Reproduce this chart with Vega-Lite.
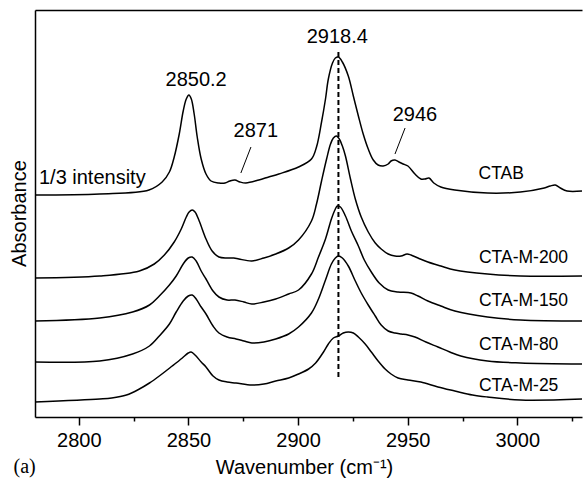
{
  "$schema": "https://vega.github.io/schema/vega-lite/v6.json",
  "width": 585,
  "height": 481,
  "autosize": {"type": "fit", "contains": "padding"},
  "padding": {"left": 9, "top": 10, "right": 0, "bottom": -7},
  "background": "white",
  "config": {
    "view": {"stroke": null},
    "font": "Liberation Sans",
    "axis": {"domainColor": "black", "domainWidth": 1.5, "tickColor": "black", "tickWidth": 1.5, "labelColor": "black", "titleColor": "black", "grid": false, "titleFontWeight": "normal", "labelFont": "Liberation Sans", "titleFont": "Liberation Sans"}
  },
  "datasets": {
    "spectra": [
      {"s": "CTAB", "wn": 2780, "a": 2.22}, {"s": "CTAB", "wn": 2809.5, "a": 2.23}, {"s": "CTAB", "wn": 2832, "a": 2.27},
      {"s": "CTAB", "wn": 2838, "a": 2.35}, {"s": "CTAB", "wn": 2841.3, "a": 2.45}, {"s": "CTAB", "wn": 2843.5, "a": 2.6},
      {"s": "CTAB", "wn": 2845.8, "a": 2.83}, {"s": "CTAB", "wn": 2847.6, "a": 3.06}, {"s": "CTAB", "wn": 2849.0, "a": 3.18},
      {"s": "CTAB", "wn": 2850.2, "a": 3.22}, {"s": "CTAB", "wn": 2851.3, "a": 3.18}, {"s": "CTAB", "wn": 2852.6, "a": 3.03},
      {"s": "CTAB", "wn": 2854.0, "a": 2.8}, {"s": "CTAB", "wn": 2855.8, "a": 2.58}, {"s": "CTAB", "wn": 2858.0, "a": 2.43},
      {"s": "CTAB", "wn": 2860.3, "a": 2.36}, {"s": "CTAB", "wn": 2863.9, "a": 2.34}, {"s": "CTAB", "wn": 2866.7, "a": 2.34},
      {"s": "CTAB", "wn": 2868.9, "a": 2.36}, {"s": "CTAB", "wn": 2871.2, "a": 2.37}, {"s": "CTAB", "wn": 2873.5, "a": 2.35},
      {"s": "CTAB", "wn": 2876.2, "a": 2.34}, {"s": "CTAB", "wn": 2882.1, "a": 2.37}, {"s": "CTAB", "wn": 2886.6, "a": 2.4},
      {"s": "CTAB", "wn": 2891.2, "a": 2.43}, {"s": "CTAB", "wn": 2900.2, "a": 2.5}, {"s": "CTAB", "wn": 2906.1, "a": 2.58},
      {"s": "CTAB", "wn": 2908.4, "a": 2.7}, {"s": "CTAB", "wn": 2910.7, "a": 2.95}, {"s": "CTAB", "wn": 2912.5, "a": 3.18},
      {"s": "CTAB", "wn": 2913.8, "a": 3.38}, {"s": "CTAB", "wn": 2915.7, "a": 3.54}, {"s": "CTAB", "wn": 2917.0, "a": 3.59},
      {"s": "CTAB", "wn": 2918.4, "a": 3.6}, {"s": "CTAB", "wn": 2920.2, "a": 3.55}, {"s": "CTAB", "wn": 2922.9, "a": 3.41},
      {"s": "CTAB", "wn": 2925.2, "a": 3.21}, {"s": "CTAB", "wn": 2927.5, "a": 3.01}, {"s": "CTAB", "wn": 2929.7, "a": 2.83},
      {"s": "CTAB", "wn": 2932.0, "a": 2.68}, {"s": "CTAB", "wn": 2934.3, "a": 2.57}, {"s": "CTAB", "wn": 2936.5, "a": 2.52},
      {"s": "CTAB", "wn": 2938.8, "a": 2.51}, {"s": "CTAB", "wn": 2941.1, "a": 2.53}, {"s": "CTAB", "wn": 2942.4, "a": 2.56},
      {"s": "CTAB", "wn": 2944.2, "a": 2.57}, {"s": "CTAB", "wn": 2946.0, "a": 2.55}, {"s": "CTAB", "wn": 2947.9, "a": 2.53},
      {"s": "CTAB", "wn": 2950.1, "a": 2.51}, {"s": "CTAB", "wn": 2953.3, "a": 2.43}, {"s": "CTAB", "wn": 2956.0, "a": 2.38},
      {"s": "CTAB", "wn": 2957.9, "a": 2.38}, {"s": "CTAB", "wn": 2959.7, "a": 2.39}, {"s": "CTAB", "wn": 2961.9, "a": 2.34},
      {"s": "CTAB", "wn": 2965.1, "a": 2.3}, {"s": "CTAB", "wn": 2971.5, "a": 2.27}, {"s": "CTAB", "wn": 2986.4, "a": 2.24},
      {"s": "CTAB", "wn": 3001.4, "a": 2.25}, {"s": "CTAB", "wn": 3012.3, "a": 2.29}, {"s": "CTAB", "wn": 3015.0, "a": 2.31},
      {"s": "CTAB", "wn": 3017.3, "a": 2.32}, {"s": "CTAB", "wn": 3019.6, "a": 2.29}, {"s": "CTAB", "wn": 3022.7, "a": 2.26},
      {"s": "CTAB", "wn": 3029.5, "a": 2.26},

      {"s": "CTA-M-200", "wn": 2780, "a": 1.39}, {"s": "CTA-M-200", "wn": 2809.5, "a": 1.41}, {"s": "CTA-M-200", "wn": 2827.6, "a": 1.46},
      {"s": "CTA-M-200", "wn": 2834.4, "a": 1.53}, {"s": "CTA-M-200", "wn": 2839.0, "a": 1.62}, {"s": "CTA-M-200", "wn": 2843.5, "a": 1.75},
      {"s": "CTA-M-200", "wn": 2846.7, "a": 1.88}, {"s": "CTA-M-200", "wn": 2849.0, "a": 2.0}, {"s": "CTA-M-200", "wn": 2850.3, "a": 2.05},
      {"s": "CTA-M-200", "wn": 2851.7, "a": 2.07}, {"s": "CTA-M-200", "wn": 2853.0, "a": 2.05}, {"s": "CTA-M-200", "wn": 2854.9, "a": 1.96},
      {"s": "CTA-M-200", "wn": 2858.0, "a": 1.78}, {"s": "CTA-M-200", "wn": 2860.8, "a": 1.66}, {"s": "CTA-M-200", "wn": 2863.9, "a": 1.6},
      {"s": "CTA-M-200", "wn": 2867.6, "a": 1.59}, {"s": "CTA-M-200", "wn": 2870.7, "a": 1.59}, {"s": "CTA-M-200", "wn": 2873.0, "a": 1.58},
      {"s": "CTA-M-200", "wn": 2878.9, "a": 1.56}, {"s": "CTA-M-200", "wn": 2884.4, "a": 1.59}, {"s": "CTA-M-200", "wn": 2889.8, "a": 1.63},
      {"s": "CTA-M-200", "wn": 2895.7, "a": 1.69}, {"s": "CTA-M-200", "wn": 2900.2, "a": 1.77}, {"s": "CTA-M-200", "wn": 2906.1, "a": 1.96},
      {"s": "CTA-M-200", "wn": 2908.4, "a": 2.13}, {"s": "CTA-M-200", "wn": 2910.7, "a": 2.36}, {"s": "CTA-M-200", "wn": 2913.0, "a": 2.58},
      {"s": "CTA-M-200", "wn": 2914.8, "a": 2.73}, {"s": "CTA-M-200", "wn": 2916.1, "a": 2.79}, {"s": "CTA-M-200", "wn": 2917.5, "a": 2.81},
      {"s": "CTA-M-200", "wn": 2918.8, "a": 2.78}, {"s": "CTA-M-200", "wn": 2920.2, "a": 2.71}, {"s": "CTA-M-200", "wn": 2921.6, "a": 2.61},
      {"s": "CTA-M-200", "wn": 2923.9, "a": 2.38}, {"s": "CTA-M-200", "wn": 2926.1, "a": 2.18}, {"s": "CTA-M-200", "wn": 2928.8, "a": 2.0},
      {"s": "CTA-M-200", "wn": 2932.0, "a": 1.85}, {"s": "CTA-M-200", "wn": 2935.2, "a": 1.74}, {"s": "CTA-M-200", "wn": 2937.9, "a": 1.68},
      {"s": "CTA-M-200", "wn": 2941.1, "a": 1.63}, {"s": "CTA-M-200", "wn": 2944.2, "a": 1.61}, {"s": "CTA-M-200", "wn": 2947.0, "a": 1.61},
      {"s": "CTA-M-200", "wn": 2949.7, "a": 1.63}, {"s": "CTA-M-200", "wn": 2951.5, "a": 1.62}, {"s": "CTA-M-200", "wn": 2954.7, "a": 1.59},
      {"s": "CTA-M-200", "wn": 2959.2, "a": 1.55}, {"s": "CTA-M-200", "wn": 2965.1, "a": 1.51}, {"s": "CTA-M-200", "wn": 2971.5, "a": 1.47},
      {"s": "CTA-M-200", "wn": 2986.4, "a": 1.43}, {"s": "CTA-M-200", "wn": 3001.4, "a": 1.41}, {"s": "CTA-M-200", "wn": 3029.5, "a": 1.41},

      {"s": "CTA-M-150", "wn": 2780, "a": 0.96}, {"s": "CTA-M-150", "wn": 2809.5, "a": 0.99}, {"s": "CTA-M-150", "wn": 2824.5, "a": 1.05},
      {"s": "CTA-M-150", "wn": 2832.2, "a": 1.12}, {"s": "CTA-M-150", "wn": 2836.7, "a": 1.21}, {"s": "CTA-M-150", "wn": 2841.3, "a": 1.32},
      {"s": "CTA-M-150", "wn": 2844.4, "a": 1.41}, {"s": "CTA-M-150", "wn": 2847.6, "a": 1.53}, {"s": "CTA-M-150", "wn": 2849.9, "a": 1.59},
      {"s": "CTA-M-150", "wn": 2851.7, "a": 1.6}, {"s": "CTA-M-150", "wn": 2853.5, "a": 1.56}, {"s": "CTA-M-150", "wn": 2855.8, "a": 1.46},
      {"s": "CTA-M-150", "wn": 2858.0, "a": 1.38}, {"s": "CTA-M-150", "wn": 2861.2, "a": 1.26}, {"s": "CTA-M-150", "wn": 2863.9, "a": 1.2},
      {"s": "CTA-M-150", "wn": 2867.6, "a": 1.17}, {"s": "CTA-M-150", "wn": 2871.2, "a": 1.17}, {"s": "CTA-M-150", "wn": 2875.3, "a": 1.15},
      {"s": "CTA-M-150", "wn": 2878.9, "a": 1.13}, {"s": "CTA-M-150", "wn": 2884.4, "a": 1.15}, {"s": "CTA-M-150", "wn": 2889.8, "a": 1.18},
      {"s": "CTA-M-150", "wn": 2895.7, "a": 1.23}, {"s": "CTA-M-150", "wn": 2900.2, "a": 1.27}, {"s": "CTA-M-150", "wn": 2906.1, "a": 1.43},
      {"s": "CTA-M-150", "wn": 2909.3, "a": 1.6}, {"s": "CTA-M-150", "wn": 2912.5, "a": 1.78}, {"s": "CTA-M-150", "wn": 2915.2, "a": 1.98},
      {"s": "CTA-M-150", "wn": 2917.0, "a": 2.08}, {"s": "CTA-M-150", "wn": 2917.9, "a": 2.11}, {"s": "CTA-M-150", "wn": 2919.3, "a": 2.1},
      {"s": "CTA-M-150", "wn": 2921.6, "a": 2.01}, {"s": "CTA-M-150", "wn": 2924.3, "a": 1.86}, {"s": "CTA-M-150", "wn": 2927.5, "a": 1.71},
      {"s": "CTA-M-150", "wn": 2930.2, "a": 1.57}, {"s": "CTA-M-150", "wn": 2933.4, "a": 1.45}, {"s": "CTA-M-150", "wn": 2937.0, "a": 1.34},
      {"s": "CTA-M-150", "wn": 2941.1, "a": 1.27}, {"s": "CTA-M-150", "wn": 2945.6, "a": 1.25}, {"s": "CTA-M-150", "wn": 2951.5, "a": 1.24},
      {"s": "CTA-M-150", "wn": 2954.7, "a": 1.21}, {"s": "CTA-M-150", "wn": 2959.2, "a": 1.16}, {"s": "CTA-M-150", "wn": 2965.1, "a": 1.11},
      {"s": "CTA-M-150", "wn": 2971.5, "a": 1.06}, {"s": "CTA-M-150", "wn": 2986.4, "a": 1.0}, {"s": "CTA-M-150", "wn": 3001.4, "a": 0.97},
      {"s": "CTA-M-150", "wn": 3029.5, "a": 0.96},

      {"s": "CTA-M-80", "wn": 2780, "a": 0.55}, {"s": "CTA-M-80", "wn": 2809.5, "a": 0.56}, {"s": "CTA-M-80", "wn": 2824.5, "a": 0.63},
      {"s": "CTA-M-80", "wn": 2832.2, "a": 0.71}, {"s": "CTA-M-80", "wn": 2836.7, "a": 0.81}, {"s": "CTA-M-80", "wn": 2841.3, "a": 0.93},
      {"s": "CTA-M-80", "wn": 2844.4, "a": 1.05}, {"s": "CTA-M-80", "wn": 2847.6, "a": 1.16}, {"s": "CTA-M-80", "wn": 2849.9, "a": 1.21},
      {"s": "CTA-M-80", "wn": 2851.7, "a": 1.22}, {"s": "CTA-M-80", "wn": 2853.5, "a": 1.18}, {"s": "CTA-M-80", "wn": 2855.8, "a": 1.1},
      {"s": "CTA-M-80", "wn": 2858.0, "a": 1.03}, {"s": "CTA-M-80", "wn": 2861.2, "a": 0.91}, {"s": "CTA-M-80", "wn": 2863.9, "a": 0.84},
      {"s": "CTA-M-80", "wn": 2867.6, "a": 0.8}, {"s": "CTA-M-80", "wn": 2871.7, "a": 0.78}, {"s": "CTA-M-80", "wn": 2875.3, "a": 0.76},
      {"s": "CTA-M-80", "wn": 2878.9, "a": 0.74}, {"s": "CTA-M-80", "wn": 2884.4, "a": 0.75}, {"s": "CTA-M-80", "wn": 2889.8, "a": 0.78},
      {"s": "CTA-M-80", "wn": 2895.7, "a": 0.83}, {"s": "CTA-M-80", "wn": 2900.2, "a": 0.9}, {"s": "CTA-M-80", "wn": 2906.1, "a": 1.04},
      {"s": "CTA-M-80", "wn": 2909.3, "a": 1.18}, {"s": "CTA-M-80", "wn": 2912.5, "a": 1.37}, {"s": "CTA-M-80", "wn": 2915.2, "a": 1.53},
      {"s": "CTA-M-80", "wn": 2917.0, "a": 1.59}, {"s": "CTA-M-80", "wn": 2918.4, "a": 1.61}, {"s": "CTA-M-80", "wn": 2920.2, "a": 1.59},
      {"s": "CTA-M-80", "wn": 2922.9, "a": 1.51}, {"s": "CTA-M-80", "wn": 2926.1, "a": 1.36}, {"s": "CTA-M-80", "wn": 2928.8, "a": 1.24},
      {"s": "CTA-M-80", "wn": 2932.0, "a": 1.12}, {"s": "CTA-M-80", "wn": 2935.2, "a": 1.01}, {"s": "CTA-M-80", "wn": 2937.9, "a": 0.92},
      {"s": "CTA-M-80", "wn": 2941.1, "a": 0.86}, {"s": "CTA-M-80", "wn": 2944.2, "a": 0.84}, {"s": "CTA-M-80", "wn": 2947.0, "a": 0.83},
      {"s": "CTA-M-80", "wn": 2950.1, "a": 0.82}, {"s": "CTA-M-80", "wn": 2953.3, "a": 0.8}, {"s": "CTA-M-80", "wn": 2958.3, "a": 0.75},
      {"s": "CTA-M-80", "wn": 2963.8, "a": 0.7}, {"s": "CTA-M-80", "wn": 2969.2, "a": 0.65}, {"s": "CTA-M-80", "wn": 2974.2, "a": 0.61},
      {"s": "CTA-M-80", "wn": 2986.4, "a": 0.56}, {"s": "CTA-M-80", "wn": 3001.4, "a": 0.54}, {"s": "CTA-M-80", "wn": 3029.5, "a": 0.53},

      {"s": "CTA-M-25", "wn": 2780, "a": 0.15}, {"s": "CTA-M-25", "wn": 2809.5, "a": 0.18}, {"s": "CTA-M-25", "wn": 2815.0, "a": 0.19},
      {"s": "CTA-M-25", "wn": 2821.7, "a": 0.22}, {"s": "CTA-M-25", "wn": 2827.6, "a": 0.28}, {"s": "CTA-M-25", "wn": 2832.2, "a": 0.34},
      {"s": "CTA-M-25", "wn": 2836.7, "a": 0.41}, {"s": "CTA-M-25", "wn": 2842.6, "a": 0.51}, {"s": "CTA-M-25", "wn": 2847.2, "a": 0.59},
      {"s": "CTA-M-25", "wn": 2849.9, "a": 0.64}, {"s": "CTA-M-25", "wn": 2851.2, "a": 0.65}, {"s": "CTA-M-25", "wn": 2853.0, "a": 0.62},
      {"s": "CTA-M-25", "wn": 2855.8, "a": 0.55}, {"s": "CTA-M-25", "wn": 2858.0, "a": 0.5}, {"s": "CTA-M-25", "wn": 2861.2, "a": 0.41},
      {"s": "CTA-M-25", "wn": 2863.9, "a": 0.37}, {"s": "CTA-M-25", "wn": 2867.6, "a": 0.35}, {"s": "CTA-M-25", "wn": 2871.7, "a": 0.34},
      {"s": "CTA-M-25", "wn": 2878.9, "a": 0.32}, {"s": "CTA-M-25", "wn": 2884.4, "a": 0.33}, {"s": "CTA-M-25", "wn": 2889.8, "a": 0.36},
      {"s": "CTA-M-25", "wn": 2895.7, "a": 0.39}, {"s": "CTA-M-25", "wn": 2900.2, "a": 0.43}, {"s": "CTA-M-25", "wn": 2904.8, "a": 0.48},
      {"s": "CTA-M-25", "wn": 2908.0, "a": 0.54}, {"s": "CTA-M-25", "wn": 2911.6, "a": 0.65}, {"s": "CTA-M-25", "wn": 2913.8, "a": 0.73},
      {"s": "CTA-M-25", "wn": 2916.1, "a": 0.79}, {"s": "CTA-M-25", "wn": 2918.4, "a": 0.81}, {"s": "CTA-M-25", "wn": 2920.6, "a": 0.84},
      {"s": "CTA-M-25", "wn": 2922.9, "a": 0.85}, {"s": "CTA-M-25", "wn": 2925.2, "a": 0.84}, {"s": "CTA-M-25", "wn": 2927.5, "a": 0.8},
      {"s": "CTA-M-25", "wn": 2930.6, "a": 0.73}, {"s": "CTA-M-25", "wn": 2933.4, "a": 0.65}, {"s": "CTA-M-25", "wn": 2936.5, "a": 0.56},
      {"s": "CTA-M-25", "wn": 2939.7, "a": 0.48}, {"s": "CTA-M-25", "wn": 2942.4, "a": 0.43}, {"s": "CTA-M-25", "wn": 2945.6, "a": 0.39},
      {"s": "CTA-M-25", "wn": 2950.1, "a": 0.37}, {"s": "CTA-M-25", "wn": 2956.0, "a": 0.35}, {"s": "CTA-M-25", "wn": 2963.8, "a": 0.3},
      {"s": "CTA-M-25", "wn": 2971.5, "a": 0.26}, {"s": "CTA-M-25", "wn": 2979.6, "a": 0.22}, {"s": "CTA-M-25", "wn": 2986.4, "a": 0.2},
      {"s": "CTA-M-25", "wn": 3001.4, "a": 0.17}, {"s": "CTA-M-25", "wn": 3029.5, "a": 0.18}
    ],
    "peakLabels": [
      {"t": "2850.2", "wn": 2853.5, "a": 3.31},
      {"t": "2871", "wn": 2880.7, "a": 2.8},
      {"t": "2918.4", "wn": 2917.9, "a": 3.74},
      {"t": "2946", "wn": 2953.3, "a": 2.96}
    ],
    "sampleLabels": [
      {"t": "CTAB", "wn": 2982.3, "a": 2.38},
      {"t": "CTA-M-200", "wn": 2982.5, "a": 1.54},
      {"t": "CTA-M-150", "wn": 2982.5, "a": 1.11},
      {"t": "CTA-M-80", "wn": 2982.5, "a": 0.67},
      {"t": "CTA-M-25", "wn": 2982.5, "a": 0.26}
    ],
    "pointers": [
      {"wn": 2878.5, "a": 2.7, "wn2": 2873.9, "a2": 2.44},
      {"wn": 2948.8, "a": 2.89, "wn2": 2944.2, "a2": 2.63}
    ],
    "marker": [{"wn": 2918.4, "a": 0.4, "a2": 3.65}]
  },
  "resolve": {"axis": {"x": "independent", "y": "independent"}},
  "layer": [
    {
      "data": {"name": "spectra"},
      "mark": {"type": "line", "color": "black", "strokeWidth": 1.5, "interpolate": "catmull-rom"},
      "encoding": {
        "x": {
          "field": "wn", "type": "quantitative",
          "scale": {"domain": [2780, 3029.5], "nice": false, "zero": false},
          "axis": {
            "orient": "bottom",
            "title": "Wavenumber (cm⁻¹)",
            "values": [2800, 2825, 2850, 2875, 2900, 2925, 2950, 2975, 3000, 3025],
            "format": "d",
            "labelExpr": "datum.value % 50 === 0 ? datum.label : ''",
            "tickSize": {"condition": {"test": "datum.value % 50 === 0", "value": 8}, "value": 4},
            "labelFontSize": 20,
            "labelPadding": 5,
            "labelFlush": false,
            "titleFontSize": 20,
            "titleX": 269,
            "titleY": 56,
            "titleBaseline": "alphabetic",
            "titleAnchor": null
          }
        },
        "y": {
          "field": "a", "type": "quantitative",
          "scale": {"domain": [0, 4.07], "nice": false, "zero": false},
          "axis": {
            "orient": "left",
            "title": "Absorbance",
            "ticks": false,
            "labels": false,
            "titleFontSize": 20,
            "titleX": -10,
            "titleY": 203,
            "titleAlign": "center",
            "titleBaseline": "alphabetic",
            "titleAngle": -90
          }
        },
        "detail": {"field": "s"}
      }
    },
    {
      "data": {"name": "marker"},
      "mark": {"type": "rule", "color": "black", "strokeWidth": 2, "strokeDash": [5, 3]},
      "encoding": {
        "x": {
          "field": "wn", "type": "quantitative",
          "axis": {"orient": "top", "title": null, "labels": false, "ticks": false, "domain": true}
        },
        "y": {"field": "a", "type": "quantitative", "axis": null},
        "y2": {"field": "a2"}
      }
    },
    {
      "data": {"name": "pointers"},
      "mark": {"type": "rule", "color": "black", "strokeWidth": 1},
      "encoding": {
        "x": {"field": "wn", "type": "quantitative", "axis": null},
        "x2": {"field": "wn2"},
        "y": {"field": "a", "type": "quantitative", "axis": null},
        "y2": {"field": "a2"}
      }
    },
    {
      "data": {"name": "peakLabels"},
      "mark": {"type": "text", "color": "black", "fontSize": 20, "align": "center", "baseline": "alphabetic"},
      "encoding": {
        "x": {"field": "wn", "type": "quantitative", "axis": null},
        "y": {"field": "a", "type": "quantitative", "axis": null},
        "text": {"field": "t"}
      }
    },
    {
      "data": {"name": "sampleLabels"},
      "mark": {"type": "text", "color": "black", "fontSize": 17.5, "align": "left", "baseline": "alphabetic"},
      "encoding": {
        "x": {"field": "wn", "type": "quantitative", "axis": null},
        "y": {"field": "a", "type": "quantitative", "axis": null},
        "text": {"field": "t"}
      }
    },
    {
      "data": {"values": [{"t": "1/3 intensity", "wn": 2781.8, "a": 2.33}]},
      "mark": {"type": "text", "color": "black", "fontSize": 20, "align": "left", "baseline": "alphabetic"},
      "encoding": {
        "x": {"field": "wn", "type": "quantitative", "axis": null},
        "y": {"field": "a", "type": "quantitative", "axis": null},
        "text": {"field": "t"}
      }
    },
    {
      "data": {"values": [{"t": "(a)", "wn": 2770.2, "a": -0.56}]},
      "mark": {"type": "text", "color": "black", "fontSize": 20, "font": "Liberation Serif", "align": "left", "baseline": "alphabetic"},
      "encoding": {
        "x": {"field": "wn", "type": "quantitative", "axis": null},
        "y": {"field": "a", "type": "quantitative", "axis": null},
        "text": {"field": "t"}
      }
    }
  ]
}
